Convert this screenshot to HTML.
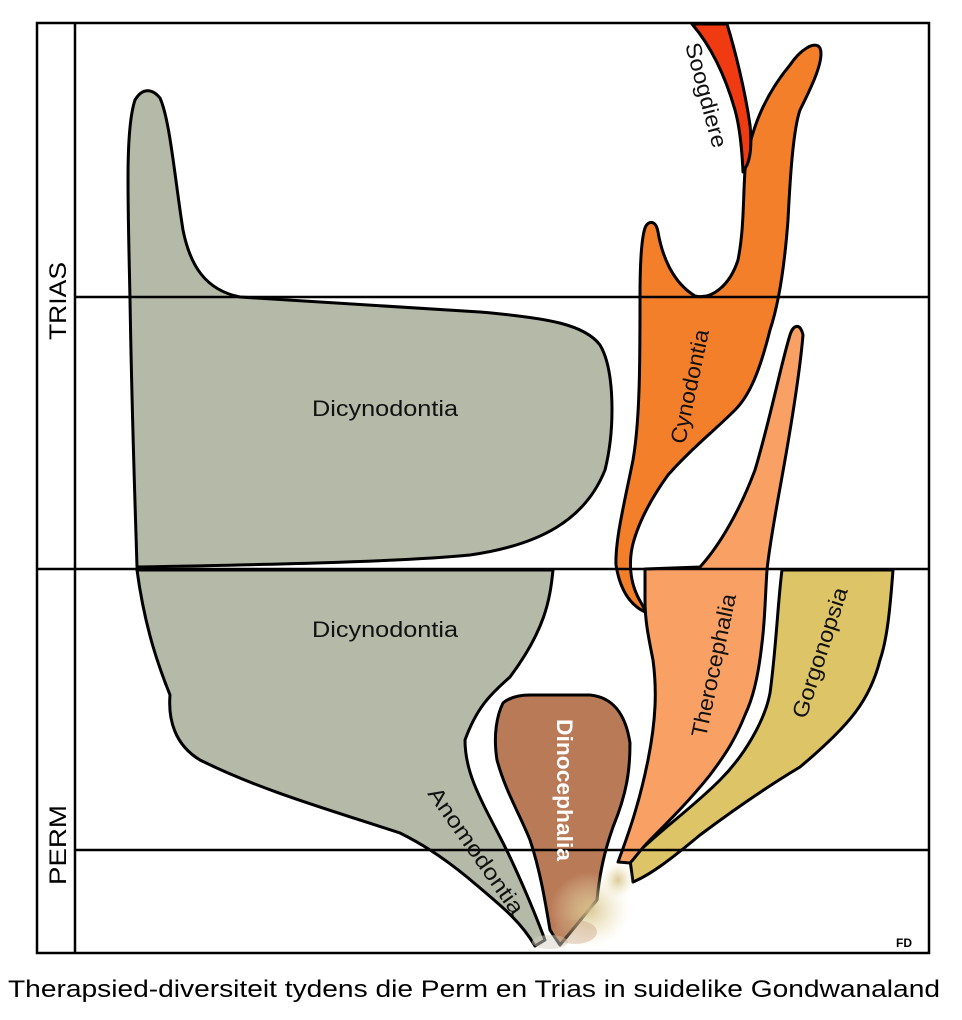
<!DOCTYPE html>
<html><head><meta charset="utf-8"><style>
html,body{margin:0;padding:0;background:#fff;width:962px;height:1020px;overflow:hidden}
svg{display:block}
text{font-family:"Liberation Sans",sans-serif}
</style></head><body>
<svg width="962" height="1020" viewBox="0 0 962 1020" xmlns="http://www.w3.org/2000/svg">
<defs>
<radialGradient id="sp" cx="50%" cy="50%" r="50%">
<stop offset="0" stop-color="#d8c48a" stop-opacity="0.9"/>
<stop offset="1" stop-color="#eee4be" stop-opacity="0"/>
</radialGradient>
</defs>
<g stroke="#000" stroke-width="3" stroke-linejoin="round">
<path fill="#b4b9a8" d="M137,567 C250,565 400,562 470,555 C540,545 585,520 605,470 C615,430 615,370 600,345 C585,325 550,318 480,312 C380,305 300,300 240,297 C205,290 190,265 183,230 C175,180 170,120 160,98 C152,88 142,88 135,100 C125,130 128,200 130,300 C132,420 135,500 137,567 Z"/>
<path fill="#b4b9a8" d="M137,570 L553,570 C550,600 545,630 510,677 C490,695 477,707 465,740 C465,770 477,793 500,837 C512,860 530,900 545,940 L535,946 C520,920 500,905 467,877 C440,855 420,843 400,833 C330,810 260,790 200,760 C175,745 168,720 170,695 C160,670 145,630 137,570 Z"/>
<path fill="#b97a57" d="M530,695 L590,695 C610,697 625,710 630,743 C630,770 627,793 613,827 C605,850 600,870 597,900 L560,945 L550,930 C545,900 540,870 530,840 C520,815 505,790 497,760 C493,735 497,715 503,703 C510,697 520,695 530,695 Z"/>
<path fill="#dcc467" d="M782,570 L893,570 C890,610 887,640 880,660 C870,700 850,725 800,767 C770,785 740,805 700,835 C670,860 650,875 633,882 L630,860 C660,830 690,810 720,780 C745,755 765,720 770,693 C776,650 778,600 782,570 Z"/>
<path fill="#f9a064" d="M618,862 C630,830 640,800 648,760 C656,720 657,690 653,660 C648,635 645,620 645,600 L645,569 L700,567 C720,545 740,510 755,470 C770,420 782,360 790,335 C793,325 800,322 803,335 C800,370 792,420 785,460 C778,500 770,540 767,570 C765,600 765,620 762,643 C758,680 752,700 745,715 C735,740 725,755 710,775 C690,800 670,820 650,840 C640,850 635,858 630,863 Z"/>
<path fill="#f47f2a" d="M645,612 C630,605 620,590 616,565 C615,540 625,500 633,460 C640,420 640,360 640,297 C640,270 641,240 645,228 C648,220 656,220 658,232 C662,255 672,282 695,296 C712,300 730,285 738,260 C744,230 743,200 745,170 C750,130 765,95 790,65 C800,50 815,40 820,48 C825,60 810,90 800,110 C793,130 790,180 788,220 C785,260 780,300 770,330 C760,370 750,395 735,410 C715,430 690,450 668,475 C650,500 640,520 634,540 C628,560 630,580 637,595 C640,602 645,608 645,612 Z"/>
<path fill="#f03a12" d="M692,24 L727,24 C735,50 745,90 750,125 C752,145 750,158 747,165 L743,172 C742,150 740,128 735,110 C725,75 710,45 692,24 Z"/>
</g>
<ellipse cx="590" cy="910" rx="40" ry="38" fill="url(#sp)"/>
<ellipse cx="618" cy="880" rx="16" ry="18" fill="url(#sp)"/>
<ellipse cx="550" cy="942" rx="18" ry="7" fill="#d6d2c2" opacity="0.5"/>
<ellipse cx="575" cy="932" rx="22" ry="12" fill="#c0916e" opacity="0.35"/>
<g stroke="#000" stroke-width="2.5" fill="none">
<rect x="37" y="23" width="892" height="930"/>
<line x1="75" y1="23" x2="75" y2="953"/>
<line x1="75" y1="297" x2="929" y2="297"/>
<line x1="37" y1="569" x2="929" y2="569"/>
<line x1="75" y1="850" x2="929" y2="850"/>
</g>
<g font-size="24" fill="#000">
<text transform="translate(66,301) rotate(-90)" text-anchor="middle" textLength="78" lengthAdjust="spacingAndGlyphs">TRIAS</text>
<text transform="translate(66,845) rotate(-90)" text-anchor="middle" textLength="80" lengthAdjust="spacingAndGlyphs">PERM</text>
</g>
<g font-size="22" fill="#111">
<text x="385" y="416" text-anchor="middle" textLength="146" lengthAdjust="spacingAndGlyphs">Dicynodontia</text>
<text x="385" y="637" text-anchor="middle" textLength="146" lengthAdjust="spacingAndGlyphs">Dicynodontia</text>
<text transform="translate(697,388) rotate(-78)" text-anchor="middle" textLength="116" lengthAdjust="spacingAndGlyphs">Cynodontia</text>
<text transform="translate(721,667) rotate(-78)" text-anchor="middle" textLength="146" lengthAdjust="spacingAndGlyphs">Therocephalia</text>
<text transform="translate(827,655) rotate(-72)" text-anchor="middle" textLength="136" lengthAdjust="spacingAndGlyphs">Gorgonopsia</text>
<text transform="translate(699,97) rotate(75)" text-anchor="middle" textLength="108" lengthAdjust="spacingAndGlyphs">Soogdiere</text>
<text transform="translate(470,855) rotate(55)" text-anchor="middle" textLength="150" lengthAdjust="spacingAndGlyphs">Anomodontia</text>
<text transform="translate(557,790) rotate(90)" text-anchor="middle" fill="#fff" font-weight="bold" textLength="142" lengthAdjust="spacingAndGlyphs">Dinocephalia</text>
</g>
<text x="904" y="947" font-size="12" font-weight="bold" text-anchor="middle">FD</text>
<text x="474" y="997" font-size="24" text-anchor="middle" fill="#000" textLength="932" lengthAdjust="spacingAndGlyphs">Therapsied-diversiteit tydens die Perm en Trias in suidelike Gondwanaland</text>
</svg>
</body></html>
